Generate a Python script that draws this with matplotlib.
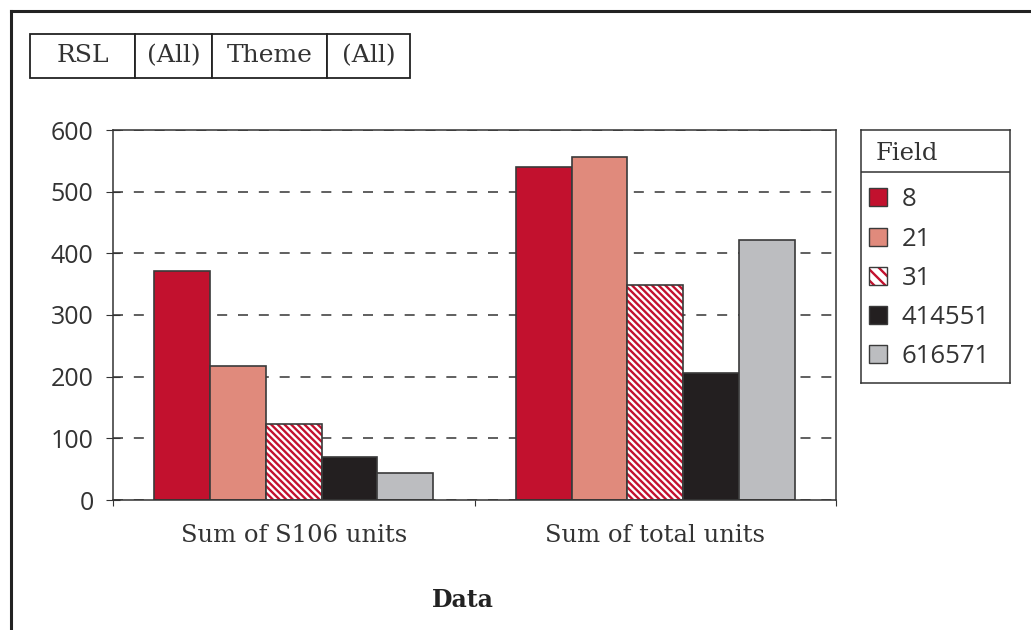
import numpy as np
import matplotlib
matplotlib.use('Agg')
import matplotlib.pyplot as plt
from matplotlib.patches import Patch
from matplotlib.lines import Line2D
from matplotlib.legend_handler import HandlerTuple

categories = ['Sum of S106 units', 'Sum of total units']
fields = ['8', '21', '31', '414551', '616571']
values = {
    '8': [371, 540],
    '21': [218, 556],
    '31': [124, 349],
    '414551': [70, 206],
    '616571': [44, 422],
}
filters = ['RSL', '(All)', 'Theme', '(All)']

colors = ['#c2112e', '#e08a7c', '#ffffff', '#231f20', '#bcbdc0']
edge = '#3a3a3a'
serif = 'DejaVu Serif'
sans = 'Open Sans'

plt.rcParams['hatch.linewidth'] = 1.7

fig = plt.figure(figsize=(10.31, 6.30), dpi=100)
W, H = 1031, 630

def fx(px):
    return px / W

def fy(py):
    return 1 - py / H

# outer frame (cropped)
fig.add_artist(Line2D([fx(11), 1], [fy(11), fy(11)], color='#222222', lw=2.2))
fig.add_artist(Line2D([fx(11), fx(11)], [fy(11), 0], color='#222222', lw=2.2))

# main axes
ax = fig.add_axes([fx(113), fy(500), fx(836) - fx(113), fy(130) - fy(500)])
x = np.arange(len(categories))
group = 0.772
bw = group / len(fields)
handles = []
for i, f in enumerate(fields):
    pos = x - group / 2 + bw * (i + 0.5)
    if f == '31':
        ax.bar(pos, values[f], bw, color='white', edgecolor='#c2112e',
               hatch='\\\\\\\\\\', linewidth=0, zorder=2)
        ax.bar(pos, values[f], bw, fill=False, edgecolor=edge, linewidth=1.2, zorder=3)
        h = (Patch(facecolor='white', edgecolor='#c2112e', hatch='\\\\\\', linewidth=0),
             Patch(fill=False, edgecolor=edge, linewidth=1.0))
    else:
        ax.bar(pos, values[f], bw, color=colors[i], edgecolor=edge, linewidth=1.2, zorder=2)
        h = Patch(facecolor=colors[i], edgecolor=edge, linewidth=1.0)
    handles.append(h)

ax.set_xlim(-0.5, 1.5)
ax.set_ylim(0, 600)
ax.set_yticks(range(0, 601, 100))
ax.set_yticklabels([str(v) for v in range(0, 601, 100)], fontfamily=sans, fontsize=18, color='#333333')
ax.set_xticks([-0.5, 0.5, 1.5])
ax.set_xticklabels([])
ax.set_xticks(x, minor=True)
ax.set_xticklabels(categories, minor=True, fontfamily=serif, fontsize=17.5, color='#333333')
ax.tick_params(axis='x', which='minor', length=0, pad=17)
ax.tick_params(axis='x', which='major', direction='out', length=4, color='#333333')
ax.tick_params(axis='y', direction='inout', length=10, color='#333333', pad=9)
ax.yaxis.grid(True, linestyle=(0, (6, 6.5)), color='#444444', linewidth=1.2, zorder=1)
ax.set_axisbelow(True)
for s in ax.spines.values():
    s.set_color('#333333')
    s.set_linewidth(1.1)

fig.text(fx(463), fy(600), 'Data', ha='center', va='center', fontfamily=serif,
         fontweight='bold', fontsize=17, color='#222222')

# legend panel
lax = fig.add_axes([fx(861), fy(383), fx(1010) - fx(861), fy(130) - fy(383)])
lax.set_xticks([])
lax.set_yticks([])
for s in lax.spines.values():
    s.set_color('#333333')
    s.set_linewidth(1.1)
lax.set_xlim(0, 1)
lax.set_ylim(0, 1)
sep = (383 - 172) / (383 - 130)
lax.axhline(sep, color='#333333', lw=1.1)
lax.text(0.1, (383 - 154) / (383 - 130), 'Field', ha='left', va='center',
         fontfamily=serif, fontsize=17.5, color='#333333')
leg = lax.legend(handles, fields, loc='upper left', bbox_to_anchor=(-0.07, sep + 0.01),
                 frameon=False, prop={'family': sans, 'size': 18.5},
                 handler_map={tuple: HandlerTuple(ndivide=1)},
                 handlelength=0.7, handleheight=0.7, handletextpad=0.6,
                 labelspacing=0.55, borderaxespad=0.3)
for t in leg.get_texts():
    t.set_color('#333333')

# filter table
tax = fig.add_axes([fx(30), fy(78), fx(410) - fx(30), fy(34) - fy(78)])
tax.axis('off')
bounds = [30, 135, 212, 327, 410]
widths = [(bounds[i + 1] - bounds[i]) / (410 - 30) for i in range(4)]
tbl = tax.table(cellText=[filters], colWidths=widths, cellLoc='center',
                bbox=[0, 0, 1, 1])
tbl.auto_set_font_size(False)
for (r, c), cell in tbl.get_celld().items():
    cell.set_linewidth(1.3)
    cell.set_edgecolor('#222222')
    cell.get_text().set_fontfamily(serif)
    cell.get_text().set_fontsize(18)
    cell.get_text().set_color('#333333')

fig.savefig('out.png', dpi=100)
